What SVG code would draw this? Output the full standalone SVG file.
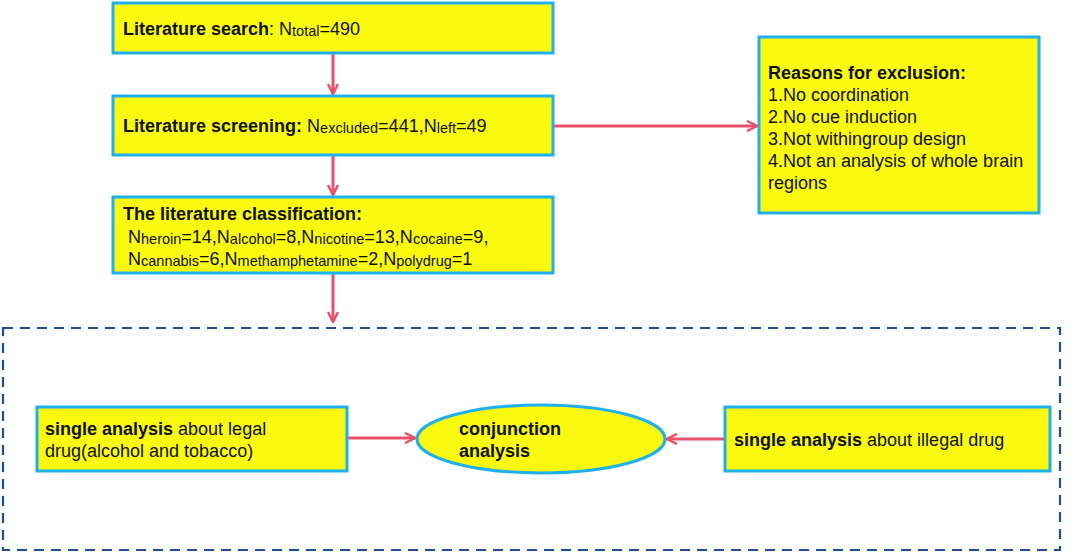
<svg xmlns="http://www.w3.org/2000/svg" width="1084" height="553" viewBox="0 0 1084 553">
<defs>
<style>
.box{fill:#fafa10;stroke:#1eb0f0;stroke-width:3}
.t{font-family:"Liberation Sans",Arial,sans-serif;font-size:18px;fill:#111}
.b{font-weight:bold}
.s{font-size:14.5px}
.conn{stroke:#e9506a;stroke-width:3;fill:none}
</style>
<marker id="ah" viewBox="0 0 12 12" refX="11" refY="6" markerWidth="12" markerHeight="12" markerUnits="userSpaceOnUse" orient="auto">
<path d="M1,1 L11,6 L1,11" fill="none" stroke="#e9506a" stroke-width="2.5"/>
</marker>
</defs>
<rect width="1084" height="553" fill="#fff"/>
<g id="container">
<rect x="3" y="328" width="1057" height="222" fill="none" stroke="#1f4e9a" stroke-width="2.2" stroke-dasharray="10,7"/>
</g>
<g id="connectors">
<line class="conn" x1="333" y1="54" x2="333" y2="94" marker-end="url(#ah)"/>
<line class="conn" x1="333" y1="156" x2="333" y2="195" marker-end="url(#ah)"/>
<line class="conn" x1="333" y1="274" x2="333" y2="322" marker-end="url(#ah)"/>
<line class="conn" x1="554" y1="126" x2="757" y2="126" marker-end="url(#ah)"/>
<line class="conn" x1="348" y1="438" x2="415" y2="438" marker-end="url(#ah)"/>
<line class="conn" x1="724" y1="439" x2="667" y2="439" marker-end="url(#ah)"/>
</g>
<g id="search">
<rect class="box" x="113" y="3" width="440" height="50"/>
<text class="t" x="123" y="35"><tspan class="b">Literature search</tspan>: N<tspan class="s" dy="1">total</tspan><tspan dy="-1">=490</tspan></text>
</g>
<g id="screening">
<rect class="box" x="113" y="96" width="440" height="59"/>
<text class="t" x="123" y="132"><tspan class="b">Literature screening:</tspan> N<tspan class="s" dy="1">excluded</tspan><tspan dy="-1">=441,N</tspan><tspan class="s" dy="1">left</tspan><tspan dy="-1">=49</tspan></text>
</g>
<g id="classification">
<rect class="box" x="113" y="197" width="440" height="76"/>
<text class="t b" x="123" y="220">The literature classification:</text>
<text class="t" x="128" y="243">N<tspan class="s" dy="1">heroin</tspan><tspan dy="-1">=14,N</tspan><tspan class="s" dy="1">alcohol</tspan><tspan dy="-1">=8,N</tspan><tspan class="s" dy="1">nicotine</tspan><tspan dy="-1">=13,N</tspan><tspan class="s" dy="1">cocaine</tspan><tspan dy="-1">=9,</tspan></text>
<text class="t" x="128" y="265">N<tspan class="s" dy="1">cannabis</tspan><tspan dy="-1">=6,N</tspan><tspan class="s" dy="1">methamphetamine</tspan><tspan dy="-1">=2,N</tspan><tspan class="s" dy="1">polydrug</tspan><tspan dy="-1">=1</tspan></text>
</g>
<g id="reasons">
<rect class="box" x="759" y="37" width="280" height="176"/>
<text class="t b" x="768" y="79">Reasons for exclusion:</text>
<text class="t" x="768" y="101">1.No coordination</text>
<text class="t" x="768" y="123">2.No cue induction</text>
<text class="t" x="768" y="145">3.Not withingroup design</text>
<text class="t" x="768" y="167">4.Not an analysis of whole brain</text>
<text class="t" x="768" y="189">regions</text>
</g>
<g id="legal">
<rect class="box" x="37" y="407" width="310" height="64"/>
<text class="t" x="45" y="435"><tspan class="b">single analysis</tspan> about legal</text>
<text class="t" x="45" y="457">drug(alcohol and tobacco)</text>
</g>
<g id="conjunction">
<ellipse class="box" cx="541" cy="439" rx="124" ry="34"/>
<text class="t b" x="459" y="435">conjunction</text>
<text class="t b" x="459" y="457">analysis</text>
</g>
<g id="illegal">
<rect class="box" x="725" y="407" width="325" height="64"/>
<text class="t" x="734" y="446"><tspan class="b">single analysis</tspan> about illegal drug</text>
</g>
</svg>
